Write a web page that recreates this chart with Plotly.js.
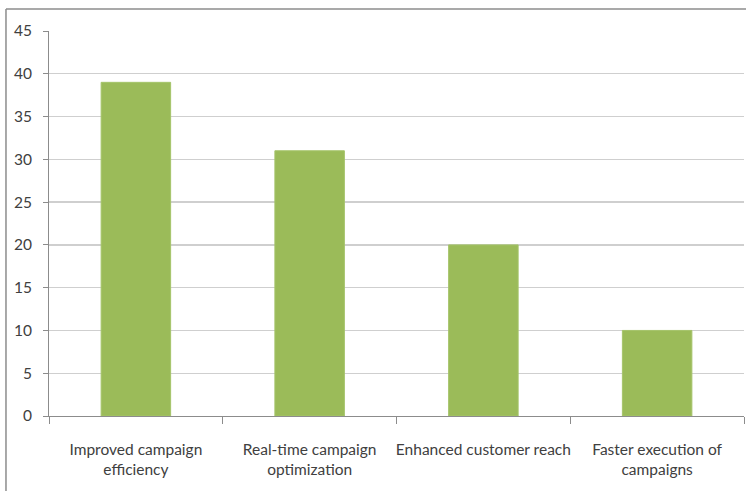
<!DOCTYPE html>
<html>
<head>
<meta charset="utf-8">
<script src="https://cdn.plot.ly/plotly-3.0.1.min.js"></script>
<style>
html,body{margin:0;padding:0;background:#fff;}
#chart{width:746px;height:491px;}
</style>
</head>
<body>
<div id="chart"></div>
<script>
const categories = [
  "Improved campaign<br>efficiency",
  "Real-time campaign<br>optimization",
  "Enhanced customer reach",
  "Faster execution of<br>campaigns"
];
const values = [39, 31, 20, 10];
const yTicks = [0, 5, 10, 15, 20, 25, 30, 35, 40, 45];

const fontFam = "Lato, 'Open Sans', sans-serif";

const trace = {
  type: 'bar',
  x: categories,
  y: values,
  width: 0.4,
  marker: {color: '#9BBB59', line: {color: '#A5C46A', width: 1}},
  hoverinfo: 'x+y'
};

const layout = {
  width: 746,
  height: 491,
  margin: {l: 49, r: 2, t: 31, b: 75},
  paper_bgcolor: '#ffffff',
  plot_bgcolor: '#ffffff',
  showlegend: false,
  font: {family: fontFam, size: 14, color: '#404040'},
  xaxis: {
    type: 'category',
    showline: true,
    linecolor: '#8C8C8C',
    linewidth: 1,
    ticks: 'outside',
    tickson: 'boundaries',
    ticklen: 7,
    tickcolor: '#8C8C8C',
    showgrid: false,
    tickangle: 0,
    automargin: false,
    tickfont: {family: fontFam, size: 15.5, color: '#404040'},
    ticklabelstandoff: 19,
    range: [-0.5, 3.5]
  },
  yaxis: {
    range: [0, 45],
    tickvals: yTicks,
    ticktext: yTicks.map(String),
    showline: true,
    linecolor: '#8C8C8C',
    linewidth: 1,
    ticks: 'outside',
    ticklen: 5,
    tickcolor: '#8C8C8C',
    showgrid: true,
    gridcolor: '#CFCFCF',
    gridwidth: 1.3,
    zeroline: false,
    automargin: false,
    tickfont: {family: fontFam, size: 15.5, color: '#404040'},
    ticklabelstandoff: 8
  },
  shapes: [
    {type: 'line', xref: 'paper', yref: 'paper', x0: -0.0619, x1: -0.0619, y0: 1.0571, y1: -0.25,
     line: {color: '#8C8C8C', width: 1.5}},
    {type: 'line', xref: 'paper', yref: 'paper', x0: -0.0619, x1: 1.01, y0: 1.0571, y1: 1.0571,
     line: {color: '#8C8C8C', width: 1.5}}
  ]
};

Plotly.newPlot('chart', [trace], layout, {displayModeBar: false, staticPlot: true});
</script>
</body>
</html>
